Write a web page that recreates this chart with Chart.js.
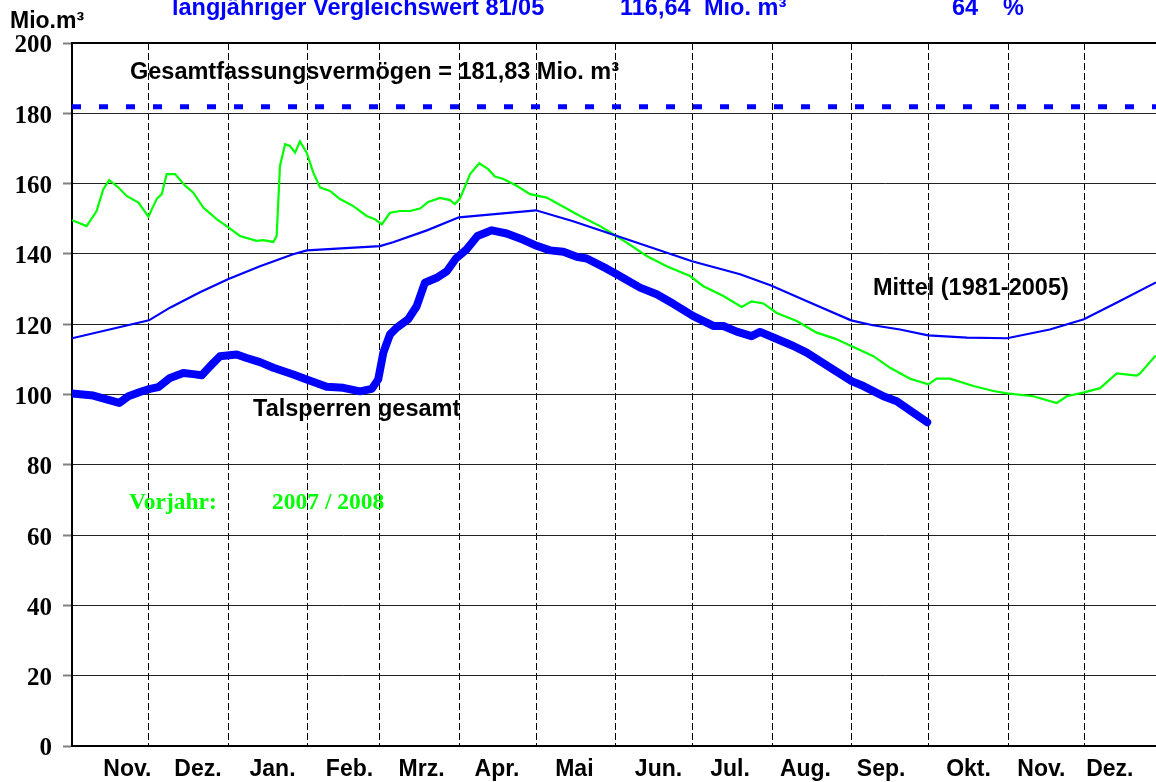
<!DOCTYPE html>
<html>
<head>
<meta charset="utf-8">
<script src="https://cdn.jsdelivr.net/npm/chart.js@4.4.0/dist/chart.umd.min.js"></script>
<style>
html,body{margin:0;padding:0;background:#fff;}
canvas{display:block;}
</style>
</head>
<body>
<canvas id="c" width="1156" height="782"></canvas>
<script>
// ---- axis definitions (days since 1 Nov) ----
const monthBoundaries = [0,30,61,92,120,151,181,212,242,273,304,334,365,395];
const monthLabels = ['Nov.','Dez.','Jan.','Feb.','Mrz.','Apr.','Mai','Jun.','Jul.','Aug.','Sep.','Okt.','Nov.','Dez.'];
const monthLabelDays = [21.6,49.1,78.2,108.2,136.3,165.7,195.9,228.7,256.6,286.0,315.5,349.6,378.0,404.7];
const xMax = 422.7;
const yTicks = [0,20,40,60,80,100,120,140,160,180,200];

// ---- Talsperren gesamt (current year) ----
const talDays = [0,8.3,13.5,18.4,22.0,26.5,30.4,33.7,38.2,43.4,47.3,50.6,53.8,57.7,64.2,68.1,73.3,78.5,86.3,91.5,99.3,105.8,112.3,116.9,119.4,121.4,124.0,126.6,131.1,134.4,137.6,142.2,146.1,149.7,153.9,158.1,163.7,169.5,176.0,181.2,186.4,191.6,196.8,200.7,208.5,212.4,221.5,228.0,234.5,242.3,250.1,254.0,259.2,265.0,268.3,273.5,281.3,286.5,296.9,304.0,308.6,316.4,321.6,328.1,333.5];
const talValues = [100.3,99.7,98.6,97.6,99.5,100.7,101.6,102.1,104.7,106.1,105.8,105.5,108.0,110.9,111.4,110.4,109.2,107.6,105.7,104.3,102.2,101.9,100.9,101.6,104.3,111.9,117.1,119.0,121.4,125.1,131.8,133.2,135.0,138.7,141.3,145.1,146.7,145.8,144.0,142.3,141.0,140.6,139.2,138.7,135.8,134.2,130.4,128.5,125.8,122.3,119.5,119.5,117.9,116.6,117.8,116.2,113.8,111.9,107.1,103.8,102.4,99.5,98.1,94.8,92.1];

// ---- Mittel (1981-2005) ----
const mittelDays = [0,30,38.2,49.9,60.8,73.3,86.2,91.6,120.1,125.2,138.4,150.9,180.9,195.4,211.7,241.8,260.5,272.6,286.6,303.8,312.3,322.9,333.8,349.0,364.6,381.3,394.6,407.5,422.7];
const mittelValues = [116.0,121.1,124.7,129.1,132.8,136.5,139.9,141.0,142.2,143.3,146.7,150.4,152.4,149.3,145.3,137.9,134.2,131.0,126.5,121.1,119.7,118.5,116.8,116.2,116.0,118.5,121.4,126.2,131.9];

// ---- Vorjahr 2007 / 2008 ----
const vorDays = [0,5.7,9.6,12.2,14.5,18.1,21.3,25.9,29.8,33.0,35.0,36.9,40.2,44.1,47.3,51.2,56.4,60.3,65.5,72.0,74.6,78.5,79.8,81.1,83.1,85.0,87.0,88.9,91.5,94.1,96.7,100.6,104.5,109.7,114.9,118.1,120.8,124.0,127.9,131.8,135.7,138.9,143.5,147.4,149.3,151.3,153.9,155.2,158.8,162.3,164.9,168.2,173.4,178.6,185.1,191.6,198.1,205.9,211.1,216.3,224.1,231.9,241.0,246.2,254.0,261.1,265.0,269.6,274.8,282.6,290.4,297.5,304.7,312.5,319.0,326.8,333.9,337.2,342.4,351.5,359.3,364.7,374.8,384.0,387.9,394.7,400.9,407.4,415.2,416.5,422.6];
const vorValues = [149.6,147.9,152.2,158.4,161.0,158.9,156.5,154.6,150.6,155.6,157.0,162.7,162.7,159.4,157.4,153.2,149.9,147.9,145.1,143.7,143.9,143.4,145.1,165.0,171.2,170.7,168.8,172.0,168.8,163.1,158.9,157.9,155.6,153.6,150.8,149.9,148.4,151.7,152.2,152.2,152.9,154.8,155.9,155.3,154.2,155.8,160.3,162.7,165.8,164.1,162.0,161.3,159.4,157.0,156.0,153.4,150.8,147.9,145.6,143.2,139.4,136.5,133.7,130.8,128.0,124.9,126.5,125.9,123.2,120.9,117.6,115.9,113.5,110.9,107.6,104.5,102.9,104.5,104.5,102.4,101.0,100.3,99.5,97.6,99.5,100.6,101.8,106.0,105.4,106.0,111.1];

// ---- Gesamtfassungsvermögen ----
const capacity = 181.83;
const capDays = [0, xMax];

// ---- texts ----
const titleParts = ['langjähriger Vergleichswert 81/05', '116,64', 'Mio. m³', '64', '%'];

const toXY = (xs, ys) => xs.map((x, i) => ({x: x, y: ys[i]}));

const SANS = "'Liberation Sans', Arial, sans-serif";
const SERIF = "'Liberation Serif', 'Times New Roman', serif";

const textPlugin = {
  id: 'texts',
  afterDraw(chart) {
    const ctx = chart.ctx;
    const xs = chart.scales.x, ys = chart.scales.y;
    const ca = chart.chartArea;
    ctx.save();
    // top border
    ctx.strokeStyle = '#000';
    ctx.lineWidth = 2;
    ctx.beginPath();
    ctx.moveTo(ca.left, ca.top);
    ctx.lineTo(ca.right, ca.top);
    ctx.stroke();

    ctx.textBaseline = 'alphabetic';
    ctx.textAlign = 'left';
    // header
    ctx.fillStyle = '#000';
    ctx.font = 'bold 23px ' + SANS;
    ctx.fillText('Mio.m³', 10, 28);
    ctx.fillStyle = '#0000ff';
    ctx.font = 'bold 23.5px ' + SANS;
    ctx.fillText(titleParts[0], 172, 15);
    ctx.fillText(titleParts[1], 620, 15);
    ctx.fillText(titleParts[2], 704, 15);
    ctx.fillText(titleParts[3], 952, 15);
    ctx.fillText(titleParts[4], 1003, 15);

    // annotations in data coordinates
    ctx.fillStyle = '#000';
    ctx.font = 'bold 23.5px ' + SANS;
    ctx.fillText('Gesamtfassungsvermögen = 181,83 Mio. m³', xs.getPixelForValue(22.6), ys.getPixelForValue(189.7));
    ctx.fillText('Mittel (1981-2005)', xs.getPixelForValue(312.3), ys.getPixelForValue(128.3));
    ctx.fillText('Talsperren gesamt', xs.getPixelForValue(70.6), ys.getPixelForValue(94.0));
    ctx.fillStyle = '#00ff00';
    ctx.font = 'bold 23.5px ' + SERIF;
    ctx.fillText('Vorjahr:', xs.getPixelForValue(22.2), ys.getPixelForValue(67.5));
    ctx.fillText('2007 / 2008', xs.getPixelForValue(78.0), ys.getPixelForValue(67.5));
    ctx.restore();
  }
};

new Chart(document.getElementById('c'), {
  type: 'line',
  data: {
    datasets: [
      {
        label: 'Talsperren gesamt',
        data: toXY(talDays, talValues),
        borderColor: '#0000ff',
        borderWidth: 8,
        pointRadius: 0,
        tension: 0,
        borderJoinStyle: 'round',
        borderCapStyle: 'round'
      },
      {
        label: 'Mittel (1981-2005)',
        data: toXY(mittelDays, mittelValues),
        borderColor: '#0000ff',
        borderWidth: 2.2,
        pointRadius: 0,
        tension: 0
      },
      {
        label: 'Vorjahr',
        data: toXY(vorDays, vorValues),
        borderColor: '#00ff00',
        borderWidth: 2.2,
        pointRadius: 0,
        tension: 0
      },
      {
        label: 'Gesamtfassungsvermögen',
        data: capDays.map(d => ({x: d, y: capacity})),
        borderColor: '#0000ff',
        borderWidth: 5,
        borderDash: [9, 18],
        borderCapStyle: 'butt',
        pointRadius: 0,
        tension: 0
      }
    ]
  },
  options: {
    responsive: false,
    animation: false,
    devicePixelRatio: 1,
    layout: { padding: { top: 43, left: 0, right: 0, bottom: 0 } },
    plugins: { legend: { display: false }, tooltip: { enabled: false } },
    scales: {
      x: {
        type: 'linear',
        min: 0,
        max: xMax,
        afterBuildTicks: (axis) => {
          const vals = monthBoundaries.concat(monthLabelDays).sort((a, b) => a - b);
          axis.ticks = vals.map(v => ({ value: v }));
        },
        afterFit: (axis) => { axis.height = 36; },
        ticks: {
          autoSkip: false,
          maxRotation: 0,
          minRotation: 0,
          padding: 10,
          color: '#000',
          font: { family: SANS, weight: 'bold', size: 23 },
          callback: (value) => {
            const i = monthLabelDays.indexOf(value);
            return i >= 0 ? monthLabels[i] : '';
          }
        },
        grid: {
          drawTicks: false,
          lineWidth: 1,
          color: (c) => (c.tick && monthBoundaries.indexOf(c.tick.value) >= 0) ? '#000' : 'rgba(0,0,0,0)'
        },
        border: { display: true, color: '#000', width: 2, dash: [7, 3] }
      },
      y: {
        min: 0,
        max: 200,
        afterBuildTicks: (axis) => { axis.ticks = yTicks.map(v => ({ value: v })); },
        afterFit: (axis) => { axis.width = 72; },
        ticks: {
          padding: 11,
          labelOffset: 3,
          color: '#000',
          font: { family: SERIF, weight: 'bold', size: 25 }
        },
        grid: {
          color: '#222',
          lineWidth: 1,
          tickColor: '#808080',
          tickLength: 9,
          tickWidth: 2
        },
        border: { display: true, color: '#000', width: 2 }
      }
    }
  },
  plugins: [textPlugin]
});
</script>
</body>
</html>
